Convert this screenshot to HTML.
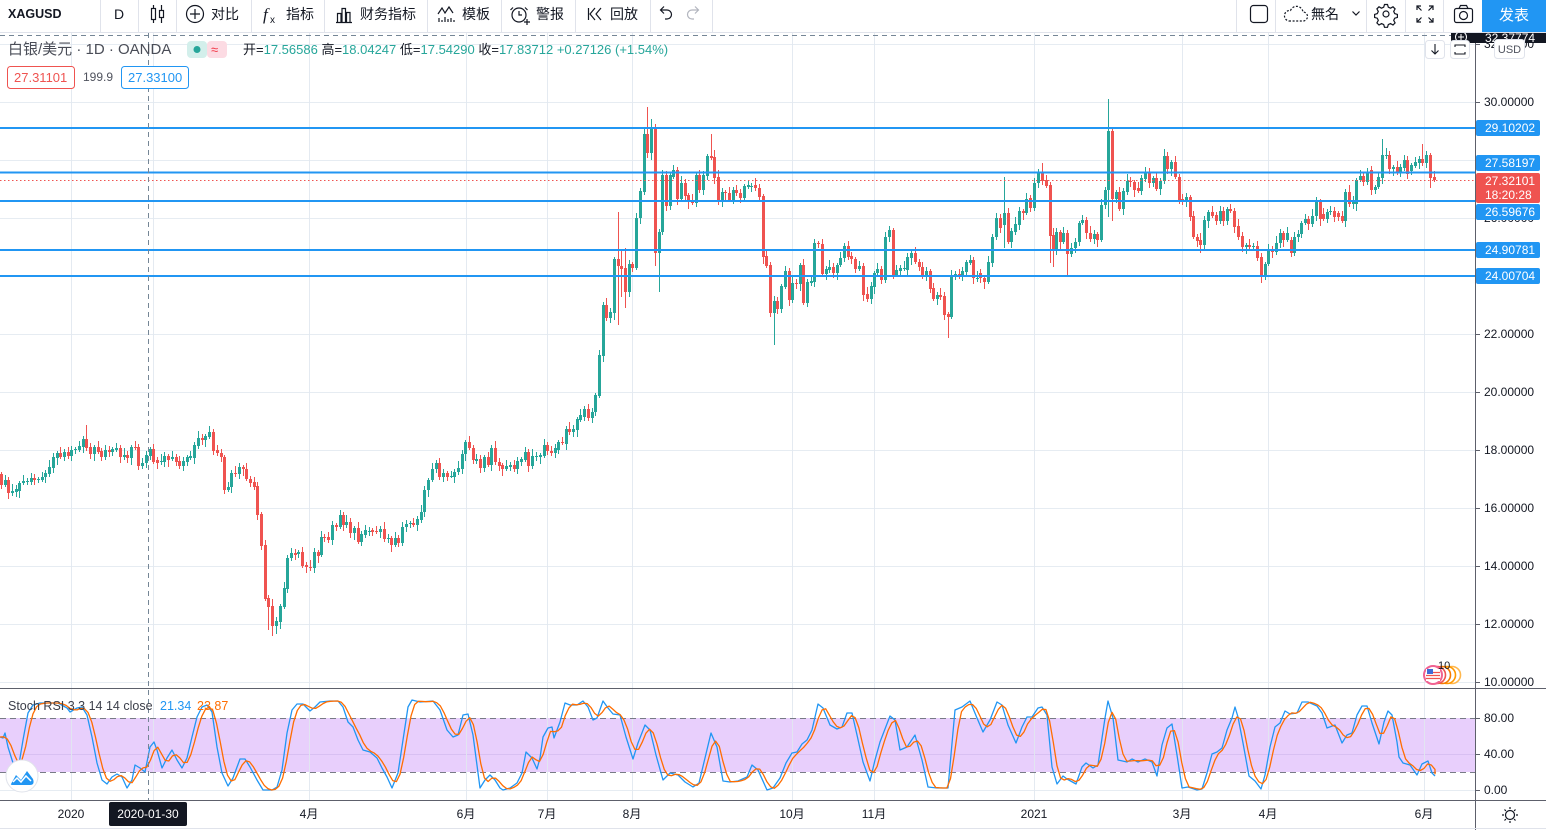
<!DOCTYPE html>
<html><head><meta charset="utf-8">
<style>
html,body{margin:0;padding:0;width:1546px;height:830px;overflow:hidden;background:#fff}
svg{position:absolute;left:0;top:0;font-family:"Liberation Sans","Noto Sans CJK SC",sans-serif}
</style></head><body>
<svg id="s" width="1546" height="830" viewBox="0 0 1546 830" xmlns="http://www.w3.org/2000/svg">
<defs>
<clipPath id="cm"><rect x="0" y="33" width="1475" height="655"/></clipPath>
<clipPath id="cr"><rect x="0" y="689" width="1475" height="111"/></clipPath>
</defs>
<rect x="0" y="0" width="1546" height="830" fill="#fff"/>
<!-- main grid -->
<g stroke="#e6ecf2" stroke-width="1">
<line x1="0" y1="44.5" x2="1475" y2="44.5"/>
<line x1="0" y1="102.5" x2="1475" y2="102.5"/>
<line x1="0" y1="160.5" x2="1475" y2="160.5"/>
<line x1="0" y1="218.5" x2="1475" y2="218.5"/>
<line x1="0" y1="276.5" x2="1475" y2="276.5"/>
<line x1="0" y1="334.5" x2="1475" y2="334.5"/>
<line x1="0" y1="392.5" x2="1475" y2="392.5"/>
<line x1="0" y1="450.5" x2="1475" y2="450.5"/>
<line x1="0" y1="508.5" x2="1475" y2="508.5"/>
<line x1="0" y1="566.5" x2="1475" y2="566.5"/>
<line x1="0" y1="624.5" x2="1475" y2="624.5"/>
<line x1="0" y1="682.5" x2="1475" y2="682.5"/>
<line x1="0" y1="790.5" x2="1475" y2="790.5"/>
</g>
<!-- RSI band -->
<rect x="0" y="718" width="1475" height="54" fill="#e8cffc"/>
<line x1="0" y1="754.5" x2="1475" y2="754.5" stroke="#d8c0f2"/>
<g stroke="#e2e8f0" stroke-width="1" opacity="0.9">
<line x1="71.5" y1="33" x2="71.5" y2="800"/>
<line x1="153.5" y1="33" x2="153.5" y2="800"/>
<line x1="309.5" y1="33" x2="309.5" y2="800"/>
<line x1="466.5" y1="33" x2="466.5" y2="800"/>
<line x1="547.5" y1="33" x2="547.5" y2="800"/>
<line x1="632.5" y1="33" x2="632.5" y2="800"/>
<line x1="792.5" y1="33" x2="792.5" y2="800"/>
<line x1="874.5" y1="33" x2="874.5" y2="800"/>
<line x1="1034.5" y1="33" x2="1034.5" y2="800"/>
<line x1="1182.5" y1="33" x2="1182.5" y2="800"/>
<line x1="1268.5" y1="33" x2="1268.5" y2="800"/>
<line x1="1424.5" y1="33" x2="1424.5" y2="800"/>
</g>
<g stroke="#787b86" stroke-width="1" stroke-dasharray="6 4">
<line x1="0" y1="718.5" x2="1475" y2="718.5"/>
<line x1="0" y1="772.5" x2="1475" y2="772.5"/>
</g>
<!-- candles -->
<g id="cd" clip-path="url(#cm)"></g>
<!-- horizontal drawings -->
<g stroke="#2196f3" stroke-width="2">
<line x1="0" y1="128" x2="1475" y2="128"/>
<line x1="0" y1="172.5" x2="1475" y2="172.5"/>
<line x1="0" y1="201" x2="1475" y2="201"/>
<line x1="0" y1="250" x2="1475" y2="250"/>
<line x1="0" y1="276" x2="1475" y2="276"/>
</g>
<line x1="0" y1="180.5" x2="1475" y2="180.5" stroke="#ef5350" stroke-width="1" stroke-dasharray="1.5 2.5"/>
<!-- RSI lines -->
<g clip-path="url(#cr)" fill="none" stroke-width="1.3" stroke-linejoin="round">
<polyline id="bl" stroke="#2196f3" points=""/>
<polyline id="or" stroke="#ff6d00" points=""/>
</g>
<!-- crosshair -->
<g stroke="#758696" stroke-width="1" stroke-dasharray="5 4">
<line x1="148.5" y1="33" x2="148.5" y2="800"/>
<line x1="0" y1="35.5" x2="1475" y2="35.5"/>
</g>
<!-- pane separators & axes -->
<rect x="1476" y="33" width="70" height="767" fill="#fff"/>
<rect x="0" y="801" width="1546" height="29" fill="#fff"/>
<line x1="0" y1="688.5" x2="1546" y2="688.5" stroke="#5d606b"/>
<line x1="0" y1="800.5" x2="1546" y2="800.5" stroke="#5d606b"/>
<line x1="1475.5" y1="33" x2="1475.5" y2="830" stroke="#5d606b"/>
<line x1="0" y1="828.5" x2="1546" y2="828.5" stroke="#e0e3eb"/>
<!-- price axis ticks and labels -->
<g stroke="#5d606b">
<line x1="1476" y1="44.5" x2="1480" y2="44.5"/><line x1="1476" y1="102.5" x2="1480" y2="102.5"/><line x1="1476" y1="334.5" x2="1480" y2="334.5"/><line x1="1476" y1="392.5" x2="1480" y2="392.5"/><line x1="1476" y1="450.5" x2="1480" y2="450.5"/><line x1="1476" y1="508.5" x2="1480" y2="508.5"/><line x1="1476" y1="566.5" x2="1480" y2="566.5"/><line x1="1476" y1="624.5" x2="1480" y2="624.5"/><line x1="1476" y1="682.5" x2="1480" y2="682.5"/><line x1="1476" y1="718.5" x2="1480" y2="718.5"/><line x1="1476" y1="754.5" x2="1480" y2="754.5"/><line x1="1476" y1="790.5" x2="1480" y2="790.5"/>
</g>
<g font-size="12" fill="#131722">
<text x="1484" y="48">32.00000</text>
<text x="1484" y="106">30.00000</text>
<text x="1484" y="164">28.00000</text>
<text x="1484" y="222">26.00000</text>
<text x="1484" y="338">22.00000</text>
<text x="1484" y="396">20.00000</text>
<text x="1484" y="454">18.00000</text>
<text x="1484" y="512">16.00000</text>
<text x="1484" y="570">14.00000</text>
<text x="1484" y="628">12.00000</text>
<text x="1484" y="686">10.00000</text>
<text x="1484" y="722">80.00</text>
<text x="1484" y="758">40.00</text>
<text x="1484" y="794">0.00</text>
</g>
<!-- level labels -->
<g font-size="12" fill="#fff">
<rect x="1476" y="120" width="64" height="16" rx="2" fill="#2196f3"/><text x="1485" y="132">29.10202</text>
<rect x="1476" y="155" width="64" height="16" rx="2" fill="#2196f3"/><text x="1485" y="167">27.58197</text>
<rect x="1476" y="173" width="64" height="30" rx="2" fill="#ef5350"/><text x="1485" y="185">27.32101</text><text x="1485" y="199">18:20:28</text>
<rect x="1476" y="204" width="64" height="16" rx="2" fill="#2196f3"/><text x="1485" y="216">26.59676</text>
<rect x="1476" y="242" width="64" height="16" rx="2" fill="#2196f3"/><text x="1485" y="254">24.90781</text>
<rect x="1476" y="268" width="64" height="16" rx="2" fill="#2196f3"/><text x="1485" y="280">24.00704</text>
</g>
<!-- crosshair price label -->
<rect x="1451" y="30" width="95" height="13" fill="#131722"/>
<circle cx="1461" cy="37" r="5.5" fill="none" stroke="#fff" stroke-width="1"/>
<path d="M1461 34v6M1458 37h6" stroke="#fff" stroke-width="1"/>
<text x="1485" y="42" font-size="12" fill="#fff">32.37774</text>
<!-- USD btn -->
<rect x="1494.5" y="39.5" width="30" height="19" rx="3" fill="#fff" stroke="#e0e3eb"/>
<text x="1509.5" y="53" font-size="11" fill="#50535e" text-anchor="middle">USD</text>
<!-- top right small buttons -->
<rect x="1425.5" y="40.5" width="19" height="18" rx="3" fill="#fff" stroke="#e0e3eb"/>
<path d="M1435 44v10M1431.5 50.5l3.5 3.5 3.5-3.5" stroke="#131722" fill="none" stroke-width="1.1"/>
<rect x="1450.5" y="40.5" width="19" height="18" rx="3" fill="#fff" stroke="#e0e3eb"/>
<path d="M1455 47v-2h10v2M1455 52v2h10v-2" stroke="#131722" fill="none" stroke-width="1.1"/>
<!-- time axis labels -->
<g font-size="12" fill="#131722" text-anchor="middle">
<text x="71" y="818">2020</text>
<text x="309" y="818">4月</text>
<text x="466" y="818">6月</text>
<text x="547" y="818">7月</text>
<text x="632" y="818">8月</text>
<text x="792" y="818">10月</text>
<text x="874" y="818">11月</text>
<text x="1034" y="818">2021</text>
<text x="1182" y="818">3月</text>
<text x="1268" y="818">4月</text>
<text x="1424" y="818">6月</text>
</g>
<rect x="109" y="802" width="78" height="24" rx="2" fill="#131722"/>
<text x="148" y="818" font-size="12" fill="#fff" text-anchor="middle">2020-01-30</text>
<!-- sun icon -->
<g stroke="#131722" stroke-width="1.2" fill="none">
<circle cx="1510" cy="815" r="4.5"/>
<path d="M1510 807v2M1510 821v2M1502 815h2M1516 815h2M1504.5 809.5l1.4 1.4M1514.1 819.1l1.4 1.4M1504.5 820.5l1.4-1.4M1514.1 810.9l1.4-1.4"/>
</g>
<!-- legend -->
<text x="8" y="54" font-size="15" fill="#4a4d57">白银/美元 · 1D · OANDA</text>
<rect x="187" y="41" width="20" height="17" rx="4" fill="#d3efeb"/>
<rect x="207" y="41" width="20" height="17" rx="4" fill="#fcdbe3"/>
<circle cx="197" cy="49.5" r="3.5" fill="#26a69a"/>
<text x="211" y="54" font-size="13" fill="#f23645">≈</text>
<text x="243" y="54" font-size="13" fill="#131722">开=<tspan fill="#26a69a">17.56586</tspan> 高=<tspan fill="#26a69a">18.04247</tspan> 低=<tspan fill="#26a69a">17.54290</tspan> 收=<tspan fill="#26a69a">17.83712</tspan> <tspan fill="#26a69a">+0.27126 (+1.54%)</tspan></text>
<rect x="7.5" y="66.5" width="67" height="22" rx="3" fill="#fff" stroke="#ef5350"/>
<text x="14" y="82" font-size="13" fill="#ef5350">27.31101</text>
<text x="83" y="81" font-size="12" fill="#50535e">199.9</text>
<rect x="121.5" y="66.5" width="67" height="22" rx="3" fill="#fff" stroke="#2196f3"/>
<text x="128" y="82" font-size="13" fill="#2196f3">27.33100</text>
<!-- RSI legend -->
<text x="8" y="710" font-size="12.5" fill="#3c3f4a">Stoch RSI 3 3 14 14 close <tspan x="160" fill="#2196f3">21.34</tspan><tspan x="197" fill="#ff6d00">23.87</tspan></text>
<!-- logo circle -->
<circle cx="22" cy="776" r="16" fill="#fff" stroke="#e0e3eb"/>
<path d="M11 784 L16 775 L21 780 L27 771 L33 779 Q35 785 30 785 L14 785 Q10 785 11 784Z" fill="#2196f3"/>
<path d="M13 782 L17 778 L21 782 L26 776 L31 781" stroke="#fff" stroke-width="1.5" fill="none"/>
<!-- econ event icon -->
<g fill="#fff" stroke-width="1.6">
<circle cx="1452" cy="675" r="8.5" stroke="#ffb74d"/>
<circle cx="1447" cy="675" r="8.5" stroke="#ff9800"/>
<circle cx="1442" cy="675" r="8.5" stroke="#f57c00"/>
<circle cx="1437" cy="675" r="8.5" stroke="#ef5350"/>
<circle cx="1433" cy="675" r="9" stroke="#f06292" stroke-width="2"/>
</g>
<rect x="1426" y="669" width="14" height="12" fill="#fff"/>
<path d="M1426 675.5h14M1426 678.5h14M1430 672.5h10" stroke="#ef5350" stroke-width="1.3"/>
<rect x="1427" y="669" width="6" height="5" fill="#3f6bd6"/>
<text x="1438" y="669" font-size="11" fill="#131722">10</text>
<!-- toolbar -->
<rect x="0" y="0" width="1546" height="32" fill="#fff"/>
<line x1="0" y1="32.5" x2="1546" y2="32.5" stroke="#e0e3eb"/>
<g stroke="#e0e3eb">
<line x1="100.5" y1="0" x2="100.5" y2="32"/><line x1="138.5" y1="0" x2="138.5" y2="32"/><line x1="176.5" y1="0" x2="176.5" y2="32"/><line x1="251.5" y1="0" x2="251.5" y2="32"/><line x1="324.5" y1="0" x2="324.5" y2="32"/><line x1="427.5" y1="0" x2="427.5" y2="32"/><line x1="501.5" y1="0" x2="501.5" y2="32"/><line x1="575.5" y1="0" x2="575.5" y2="32"/><line x1="650.5" y1="0" x2="650.5" y2="32"/><line x1="712.5" y1="0" x2="712.5" y2="32"/>
<line x1="1236.5" y1="0" x2="1236.5" y2="32"/><line x1="1275.5" y1="0" x2="1275.5" y2="32"/><line x1="1366.5" y1="0" x2="1366.5" y2="32"/><line x1="1405.5" y1="0" x2="1405.5" y2="32"/><line x1="1443.5" y1="0" x2="1443.5" y2="32"/>
</g>
<text x="8" y="18" font-size="12.5" font-weight="bold" fill="#131722">XAGUSD</text>
<text x="114" y="19" font-size="14" fill="#131722">D</text>
<g stroke="#131722" fill="none" stroke-width="1.2">
<line x1="153.5" y1="5" x2="153.5" y2="23"/><rect x="151.5" y="8.5" width="4" height="11" fill="#fff"/>
<line x1="161.5" y1="5" x2="161.5" y2="23"/><rect x="159.5" y="10.5" width="4" height="7" fill="#fff"/>
<circle cx="195" cy="14" r="8.5"/><path d="M195 9v10M190 14h10"/>
<path d="M337.5 22V13.5h3.5V22M342 22V8.5h3.5V22M346.5 22V12.5h3.5V22M336 22.5h16"/>
<path d="M438 14l4-6 3 5 4-6 4 6"/><path d="M439 22v-4M442 22v-2M445 22v-5M448 22v-3M451 22v-4M454 22v-2"/>
<circle cx="519" cy="15" r="7"/><path d="M513 7.5l-2.5 2.5M525 7.5l2.5 2.5M519 11v4h3M527 19v6M524 22h6"/>
<path d="M588.5 8v12M595 8l-5 6 5 6M601 8l-5 6 5 6"/>
<path d="M661 10h6a4.5 4.5 0 010 9h-2M664 6.5l-3.5 3.5 3.5 3.5"/>
<path d="M698 10h-6a4.5 4.5 0 000 9h2M695 6.5l3.5 3.5-3.5 3.5" stroke="#b2b5be"/>
<rect x="1250.5" y="5.5" width="17" height="17" rx="3"/>
<path d="M1289 21h14a4.5 4.5 0 000-9 6.5 6.5 0 00-12.5-1.5A5 5 0 001289 21z" stroke-dasharray="2 1.6"/>
<path d="M1352.5 11.5l3.5 3.5 3.5-3.5"/>
<circle cx="1386" cy="14" r="3"/>
<path d="M1384.5 4.5h3l.8 2.7 2.2 1 2.5-1.4 2.1 2.1-1.4 2.5 1 2.2 2.7.8v3l-2.7.8-1 2.2 1.4 2.5-2.1 2.1-2.5-1.4-2.2 1-.8 2.7h-3l-.8-2.7-2.2-1-2.5 1.4-2.1-2.1 1.4-2.5-1-2.2-2.7-.8v-3l2.7-.8 1-2.2-1.4-2.5 2.1-2.1 2.5 1.4 2.2-1z"/>
<path d="M1417 10V6h4M1417 6l4.5 4.5M1433 10V6h-4M1433 6l-4.5 4.5M1417 18v4h4M1417 22l4.5-4.5M1433 18v4h-4M1433 22l-4.5-4.5"/>
<rect x="1454.5" y="8.5" width="18" height="14" rx="2"/><path d="M1459 8.5l1.5-3h6l1.5 3"/><circle cx="1463.5" cy="15.5" r="4"/>
</g>
<text x="263" y="20" font-size="17" font-style="italic" font-family="Liberation Serif,serif" fill="#131722">f</text>
<text x="270" y="23" font-size="10" fill="#131722">x</text>
<g font-size="14" fill="#131722">
<text x="211" y="19">对比</text>
<text x="286" y="19">指标</text>
<text x="360" y="19">财务指标</text>
<text x="462" y="19">模板</text>
<text x="536" y="19">警报</text>
<text x="610" y="19">回放</text>
<text x="1311" y="19" font-family="Liberation Sans,Noto Sans CJK JP,sans-serif">無名</text>
</g>
<rect x="1482" y="0" width="64" height="32" fill="#2196f3"/>
<text x="1514" y="20" font-size="15" fill="#fff" text-anchor="middle">发表</text>
</svg>
<script>
(function(){
var NS="http://www.w3.org/2000/svg";
var D=[1,474,485,5,485,480,8,480,493,12,493,491,16,492,489,19,491,483,23,483,481,27,481,481,31,482,478,34,478,480,38,479,479,42,480,477,45,477,473,49,474,467,53,468,457,57,458,453,60,453,457,64,457,452,68,452,456,71,456,450,75,450,449,79,450,446,83,447,439,86,439,448,90,447,454,94,454,447,98,447,452,101,451,457,105,457,450,109,450,452,112,452,449,116,450,448,120,448,457,124,457,455,127,455,458,131,458,447,135,447,448,138,447,466,142,466,463,146,463,455,150,456,449,153,449,462,157,460,463,161,462,461,164,462,456,168,456,460,172,459,457,176,457,462,179,461,466,183,466,461,187,462,457,190,458,456,194,458,445,198,446,438,202,438,440,205,440,436,209,437,432,213,432,451,217,450,453,221,453,457,224,457,490,228,490,487,231,487,473,235,473,474,239,474,467,243,467,469,246,469,479,250,479,483,254,482,487,257,486,515,261,514,546,265,545,599,268,598,607,272,606,626,276,626,621,280,622,606,284,607,588,287,589,558,291,558,553,295,553,555,298,554,552,302,552,566,306,565,567,310,567,568,314,568,552,318,552,556,
321,555,537,324,537,538,328,537,540,332,540,525,336,525,527,340,527,515,343,515,525,346,525,522,350,522,533,354,533,528,358,528,542,361,542,534,365,535,530,369,531,531,372,530,532,376,531,532,380,532,529,384,529,539,388,538,538,391,538,545,395,545,538,398,538,543,402,543,527,406,527,524,410,524,523,413,523,525,417,525,519,421,520,512,424,512,490,428,490,480,432,480,469,436,469,463,439,463,477,443,477,473,447,473,477,451,476,476,454,477,472,458,472,468,462,469,454,465,454,442,469,442,448,473,448,460,476,461,459,480,459,468,484,468,457,488,457,465,491,465,448,495,448,462,499,462,466,502,465,469,506,469,466,510,467,465,514,465,469,517,469,461,521,462,459,525,460,452,528,452,466,532,466,456,536,456,456,540,457,455,544,456,445,547,445,451,551,451,453,555,453,448,558,450,442,562,442,443,566,444,429,569,429,432,573,432,429,577,430,419,580,420,415,584,417,409,588,409,418,592,418,412,595,412,395,599,396,355,603,356,305,606,305,318,610,318,312,614,313,259,618,259,266,621,266,269,625,268,292,629,292,264,632,264,268,636,268,218,640,218,191,644,192,134,647,134,153,651,153,127,655,127,253,659,253,232,662,232,175,666,175,206,670,206,175,673,177,170,677,170,199,681,199,183,685,183,196,688,195,202,692,200,203,696,203,175,699,175,190,703,190,175,707,176,156,711,156,158,714,157,178,718,177,202,722,202,192,725,192,193,729,193,200,733,200,190,736,190,193,740,193,198,744,198,186,748,187,185,751,186,186,755,185,188,759,188,197,763,196,257,766,256,266,770,265,313,774,313,301,777,301,309,781,309,286,785,287,271,789,271,300,792,300,283,796,283,284,800,284,265,803,265,303,807,303,282,811,283,281,814,282,243,818,243,244,822,244,274,826,274,269,829,270,267,833,267,273,837,273,265,840,265,258,844,258,246,848,246,257,851,256,259,855,259,269,859,269,266,863,266,295,867,294,299,871,299,286,874,287,273,877,273,269,881,269,280,885,280,237,889,237,230,893,230,275,896,275,270,900,271,268,904,268,268,907,270,257,911,258,253,915,253,262,919,262,267,922,267,276,926,276,271,930,271,289,933,288,299,937,299,295,940,295,297,944,296,315,948,314,317,951,317,276,955,276,274,959,274,276,962,276,271,966,272,262,970,263,260,973,260,278,977,279,278,980,273,278,984,278,282,988,282,262,992,263,237,996,237,218,1000,218,228,1004,225,213,1008,213,242,1011,242,231,1015,232,224,1019,225,211,1023,211,213,1026,213,199,1030,198,208,1034,208,183,1038,183,173,1042,173,181,1046,180,186,1050,185,236,1053,235,250,1056,250,232,1060,232,242,1063,242,233,1067,233,254,1071,254,248,1075,248,242,1079,242,223,1082,223,220,1086,220,233,1090,233,239,1094,239,234,1097,234,240,1101,240,205,1105,205,190,1108,190,131,1112,131,199,1116,199,192,1119,192,209,1123,209,191,1127,192,181,1130,181,182,1134,182,190,1138,188,191,1141,191,178,1145,179,172,1149,172,183,1153,183,178,1156,178,189,1160,189,181,1164,181,156,1167,156,169,1171,169,162,1175,162,177,1179,177,200,1182,199,202,1186,202,197,1190,197,217,1193,216,237,1197,237,241,1200,240,245,1204,245,220,1208,221,212,1212,212,216,1216,215,221,1220,221,211,1223,211,221,1227,221,209,1230,209,211,1234,211,227,1238,226,237,1242,236,247,1246,247,245,1249,245,247,1253,247,246,1257,246,258,1261,257,276,1265,276,264,1268,264,249,1272,249,252,1276,252,243,1280,243,233,1283,233,240,1287,240,233,1291,240,253,1294,253,237,1298,237,234,1301,234,223,1305,223,219,1308,219,224,1312,224,216,1316,216,201,1320,201,219,1323,214,219,1327,219,212,1330,212,211,1334,211,217,1338,213,217,1342,216,221,1345,221,192,1349,192,204,1353,204,200,1356,204,180,1360,180,176,1363,176,182,1367,182,173,1371,170,190,1375,190,187,1378,187,177,1382,178,155,1386,156,155,1389,155,169,1393,169,167,1397,167,173,1400,173,167,1404,168,160,1407,160,174,1411,171,165,1415,166,162,1419,163,159,1422,159,163,1426,163,155,1430,155,178,1434,177,180];
var S={86:[425,0],272:[0,636],276:[0,634],268:[0,630],618:[212,325],621:[250,297],625:[248,308],644:[129,0],647:[107,0],651:[119,0],655:[124,266],659:[0,292],663:[147,0],711:[134,0],714:[150,0],774:[0,345],948:[0,338],1004:[177,248],1042:[163,0],1050:[0,263],1053:[0,267],1067:[0,275],1108:[99,217],1112:[0,221],1200:[0,253],1261:[0,283],1382:[139,0],1422:[144,0],1430:[0,188]};
var E=[2,5,3,7,4,2,6,3,5,4],F=[4,2,6,3,5,7,2,4,3,5];
var g=document.getElementById("cd");
function R(x,y,w,h,c){var r=document.createElementNS(NS,"rect");r.setAttribute("x",x);r.setAttribute("y",y);r.setAttribute("width",w);r.setAttribute("height",h);r.setAttribute("fill",c);g.appendChild(r);}
for(var i=0,k=0;i<D.length;i+=3,k++){
var x=D[i],o=D[i+1],c=D[i+2];
var col=c<=o?"#26a69a":"#ef5350";
var t=Math.min(o,c),b=Math.max(o,c);
var hi=t-E[k%10],lo=b+F[k%10];
var s=S[x];if(s){if(s[0])hi=s[0];if(s[1])lo=s[1];}
R(x,hi,1,lo-hi,col);
R(x-1,t,3,Math.max(1,b-t),col);
}
var B=[0,737,3,738,5,733,8,747,13,763,18,770,23,740,28,713,33,705,40,703,50,703,58,703,67,708,70,712,77,708,82,707,87,715,92,737,97,763,102,780,107,784,112,777,117,774,122,777,127,788,132,780,135,765,140,768,145,772,150,747,154,742,157,750,162,768,167,758,172,750,177,760,182,768,187,758,192,737,197,717,202,707,207,705,212,712,217,747,222,773,228,786,233,778,240,759,245,759,250,767,257,780,263,790,272,790,277,787,282,770,287,733,292,710,297,704,303,704,310,711,315,707,320,702,330,701,338,701,343,707,348,722,353,727,358,740,363,750,370,752,377,758,382,768,387,777,392,788,398,773,403,740,408,707,412,700,420,702,433,701,440,710,447,730,453,737,458,735,463,715,468,714,473,735,480,788,485,780,490,775,495,780,500,788,503,790,510,788,517,783,522,773,526,752,532,758,537,769,540,758,543,737,548,728,552,727,554,738,560,722,565,703,570,705,577,705,583,701,588,707,593,720,597,718,603,701,608,708,613,714,620,715,626,737,633,759,638,743,645,725,650,730,656,755,663,780,670,773,678,775,685,782,693,787,699,783,705,758,711,733,717,747,723,781,730,782,738,781,747,777,752,765,758,770,767,790,773,788,780,778,786,763,792,753,797,752,802,744,807,740,812,730,818,704,823,708,830,725,837,729,842,727,847,713,852,713,857,735,863,762,870,781,875,760,880,742,890,716,895,720,900,750,907,747,915,735,922,760,928,787,937,788,948,788,955,710,962,707,970,701,977,718,983,732,990,720,997,702,1002,705,1008,725,1016,743,1022,727,1027,717,1032,717,1038,708,1042,707,1047,715,1052,767,1057,784,1063,776,1067,779,1076,784,1082,767,1086,763,1093,768,1098,765,1105,718,1108,701,1113,718,1118,760,1127,762,1132,759,1138,762,1145,759,1152,762,1157,776,1162,745,1167,728,1172,724,1177,755,1182,788,1188,787,1197,790,1202,789,1207,773,1212,754,1217,752,1222,748,1227,730,1232,718,1235,707,1238,717,1243,743,1249,776,1255,781,1261,789,1265,775,1270,747,1275,727,1280,723,1285,711,1290,714,1297,713,1302,702,1308,702,1317,706,1322,713,1327,728,1335,725,1342,743,1347,735,1352,733,1357,715,1362,706,1367,706,1372,723,1379,744,1384,722,1388,711,1392,715,1397,742,1399,757,1403,763,1410,765,1417,775,1422,764,1428,761,1432,773,1435,776];
function iy(x){for(var j=0;j+2<B.length;j+=2){if(x<=B[j+2]){var t=(x-B[j])/(B[j+2]-B[j]);return B[j+1]+t*(B[j+3]-B[j+1]);}}return B[B.length-1];}
var bp="";for(var j=0;j<B.length;j+=2)bp+=B[j]+","+B[j+1]+" ";
document.getElementById("bl").setAttribute("points",bp);
var sm=[];for(var xx=0;xx<=1435;xx+=3.67)sm.push([xx,iy(xx)]);
sm.push([1435,iy(1435)]);
var op="";for(var q=0;q<sm.length;q++){var a=sm[Math.max(0,q-2)][1],b2=sm[Math.max(0,q-1)][1],c2=sm[q][1];op+=sm[q][0].toFixed(1)+","+((a+b2+c2)/3).toFixed(1)+" ";}
document.getElementById("or").setAttribute("points",op);
})();
</script>
</body></html>
